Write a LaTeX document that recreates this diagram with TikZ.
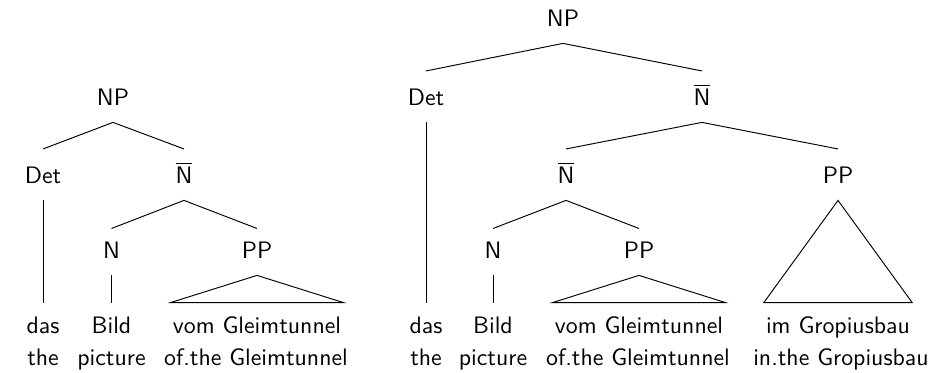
\documentclass[tikz,border=0pt]{standalone}
\begin{document}
\begin{tikzpicture}[x=0.42pt,y=-0.42pt,
  every node/.style={font=\sffamily, anchor=base},
  cat/.style={text height=7pt, text depth=0pt, inner ysep=7.1pt, inner xsep=1pt},
  lowcat/.style={cat, text height=5.1pt},
  word/.style={text height=7pt, text depth=0pt, inner ysep=5.6pt, inner xsep=0.7pt},
  gloss/.style={inner sep=0pt},
  edge/.style={line width=0.4pt}]
\useasboundingbox (0,0) rectangle (948,372);
\newcommand{\nbar}{$\overline{\mbox{N}}$}

% ---- left tree: das Bild vom Gleimtunnel ----
\node[cat] (np1) at (113,105) {NP};
\node[cat] (det1) at (43,183) {Det};
\node[cat] (nb1) at (184,183) {\nbar};
\node[lowcat] (n1) at (111.5,258) {N};
\node[lowcat] (pp1) at (257,258) {PP};
\node[word] (das1) at (43,333) {das};
\node[word] (bild1) at (111.5,333) {Bild};
\node[word] (vom1) at (257,333) {vom Gleimtunnel};
\node[gloss] (the1) at (43,365) {the};
\node[gloss] (pic1) at (111.5,365) {picture};
\node[gloss] (of1) at (256,365) {of.the Gleimtunnel};

\draw[edge] (det1.north) -- (np1.south) -- (nb1.north);
\draw[edge] (n1.north) -- (nb1.south) -- (pp1.north);
\draw[edge] (det1.south) -- (das1.north);
\draw[edge] (n1.south) -- (bild1.north);
\draw[edge] (pp1.south) -- (vom1.north west) -- (vom1.north east) -- cycle;

% ---- right tree: das Bild vom Gleimtunnel im Gropiusbau ----
\node[cat] (np2) at (563,26) {NP};
\node[cat] (det2) at (426,105) {Det};
\node[cat] (nb2) at (702,105) {\nbar};
\node[cat] (nb3) at (566,183) {\nbar};
\node[cat] (pp3) at (838,183) {PP};
\node[lowcat] (n2) at (493,258) {N};
\node[lowcat] (pp2) at (639,258) {PP};
\node[word] (das2) at (426,333) {das};
\node[word] (bild2) at (493,333) {Bild};
\node[word] (vom2) at (639,333) {vom Gleimtunnel};
\node[word] (im2) at (838,333) {im Gropiusbau};
\node[gloss] (the2) at (426,365) {the};
\node[gloss] (pic2) at (493,365) {picture};
\node[gloss] (of2) at (638,365) {of.the Gleimtunnel};
\node[gloss] (in2) at (841,365) {in.the Gropiusbau};

\draw[edge] (det2.north) -- (np2.south) -- (nb2.north);
\draw[edge] (nb3.north) -- (nb2.south) -- (pp3.north);
\draw[edge] (n2.north) -- (nb3.south) -- (pp2.north);
\draw[edge] (det2.south) -- (das2.north);
\draw[edge] (n2.south) -- (bild2.north);
\draw[edge] (pp2.south) -- (vom2.north west) -- (vom2.north east) -- cycle;
\draw[edge] (pp3.south) -- (im2.north west) -- (im2.north east) -- cycle;
\end{tikzpicture}
\end{document}
